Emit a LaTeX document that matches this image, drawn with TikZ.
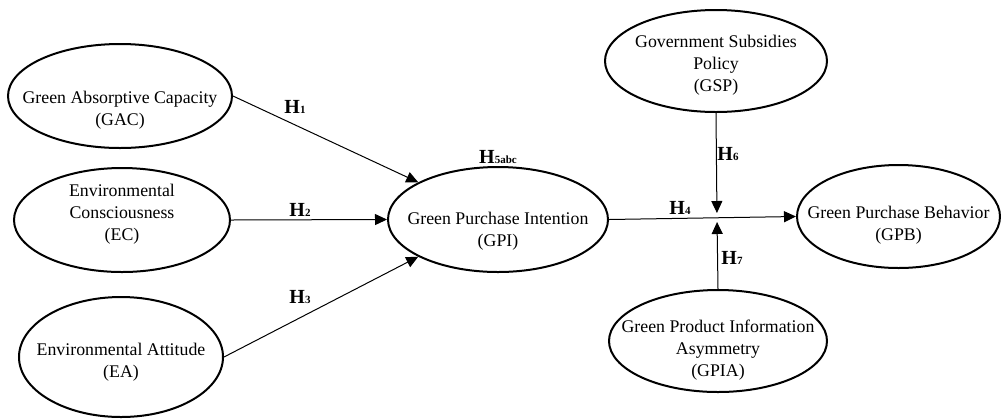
\documentclass[tikz,border=0pt]{standalone}
\usepackage{fontspec}
\setmainfont{Liberation Serif}
\usetikzlibrary{shapes.geometric,arrows.meta}
\newcommand{\hyp}[1]{\textbf{H}{\fontsize{5.5}{6}\selectfont\bfseries #1}}

\begin{document}
\begin{tikzpicture}[x=0.5pt,y=-0.5pt,
    blob/.style={draw,ellipse,line width=1pt,inner sep=0pt},
    txt/.style={align=center,font=\fontsize{8.9}{11}\selectfont},
    hlab/.style={font=\fontsize{10}{12}\selectfont},
    link/.style={line width=0.5pt,-{Triangle[length=6pt,width=5.5pt]}}]
  \useasboundingbox (0,0) rectangle (1001,419);
  \node[blob,minimum width=112pt,minimum height=52pt] (gac) at (120,96) {};
  \node[txt] (gac-t) at (120,110.5) {Green Absorptive Capacity\\(GAC)};
  \node[blob,minimum width=108pt,minimum height=52pt] (ec) at (122,220) {};
  \node[txt] (ec-t) at (122,214) {Environmental\\Consciousness\\(EC)};
  \node[blob,minimum width=102pt,minimum height=60pt] (ea) at (121,357) {};
  \node[txt] (ea-t) at (121,362.5) {Environmental Attitude\\(EA)};
  \node[blob,minimum width=110pt,minimum height=52.5pt] (gpi) at (498,219.5) {};
  \node[txt] (gpi-t) at (498,231.5) {Green Purchase Intention\\(GPI)};
  \node[blob,minimum width=111pt,minimum height=51pt] (gsp) at (716,61) {};
  \node[txt] (gsp-t) at (716,65) {Government Subsidies\\Policy\\(GSP)};
  \node[blob,minimum width=101.5pt,minimum height=51.5pt] (gpb) at (898.5,216.5) {};
  \node[txt] (gpb-t) at (898.5,225) {Green Purchase Behavior\\(GPB)};
  \node[blob,minimum width=109pt,minimum height=51pt] (gpia) at (718,341) {};
  \node[txt] (gpia-t) at (718,350) {Green Product Information\\Asymmetry\\(GPIA)};
  \coordinate (mod) at (717,219);

  \draw[link] (gac.east) -- (gpi.155);
  \draw[link] (ec.east) -- (gpi.west);
  \draw[link] (ea.east) -- (gpi.205);
  \draw[link] (gpi.east) -- (gpb.west);
  \draw[link,shorten >=3pt] (gsp.south) -- (mod);
  \draw[link,shorten >=1.5pt] (gpia.north) -- (mod);

  \node[hlab] (h1) at (295,107) {\hyp{1}};
  \node[hlab] (h2) at (300,210) {\hyp{2}};
  \node[hlab] (h3) at (300,297) {\hyp{3}};
  \node[hlab] (h4) at (680,208) {\hyp{4}};
  \node[hlab] (h5) at (498,157) {\hyp{5abc}};
  \node[hlab] (h6) at (728,154) {\hyp{6}};
  \node[hlab] (h7) at (732,258) {\hyp{7}};
\end{tikzpicture}
\end{document}
